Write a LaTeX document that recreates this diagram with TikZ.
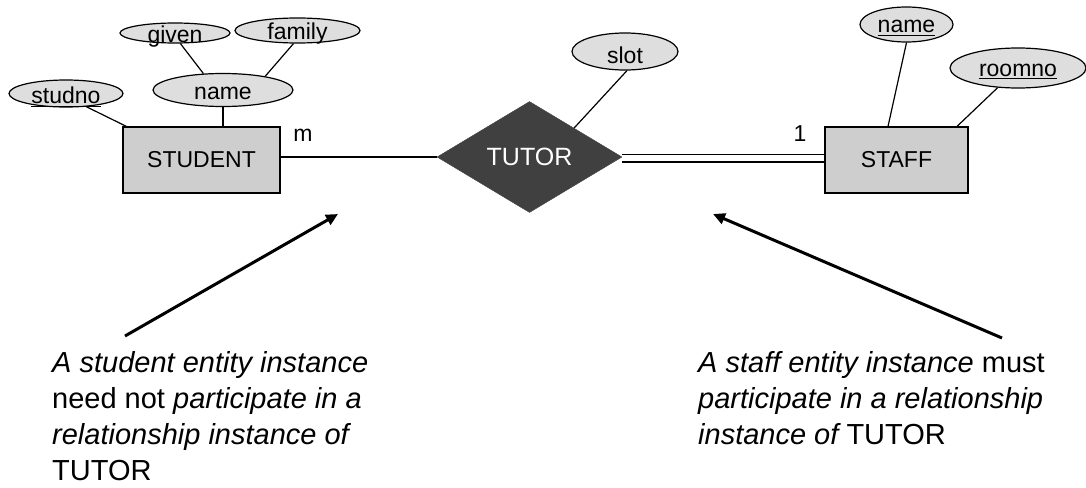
\documentclass[tikz,border=0pt]{standalone}
\usepackage{fontspec}
\setmainfont{Liberation Sans}
\usepackage{tikz}
\usetikzlibrary{arrows.meta,shapes.geometric}
\definecolor{grisat}{RGB}{222,222,222}
\definecolor{grisent}{RGB}{206,206,206}
\definecolor{oscuro}{RGB}{64,64,64}
\newcommand{\etqfont}{\fontsize{23}{27}\selectfont}
\newcommand{\relfont}{\fontsize{25}{29}\selectfont}
\newcommand{\notafont}{\fontsize{29}{36}\selectfont}
\newcommand{\pkey}[1]{\setbox0\hbox{#1}\rlap{\rule[-3.2pt]{\wd0}{1.2pt}}\box0}
\tikzset{
  ent/.style={draw, rectangle, fill=grisent, line width=1.2pt, inner sep=0pt, font=\etqfont},
  attr/.style={draw, ellipse, fill=grisat, line width=1.2pt, inner sep=0pt, label distance=0pt},
  rel/.style={draw=oscuro, diamond, fill=oscuro, text=white, inner sep=0pt, font=\relfont},
  card/.style={font=\etqfont, inner sep=0pt},
  lnk/.style={line width=1.2pt},
  dbl/.style={double, double distance=6pt, line width=1.2pt},
  fl/.style={-{Triangle[length=12pt,width=11pt]}, line width=3pt},
  nota/.style={align=left, font=\notafont, anchor=base west, inner sep=0pt},
}
\begin{document}
\begin{tikzpicture}[x=1pt,y=-1pt,every label/.style={font=\etqfont, yshift=-3.5pt}]
  \useasboundingbox (0,0) rectangle (1086,487);
  % entities and relationship
  \node[ent, minimum width=157pt, minimum height=66pt] (student) at (201.5,160) {STUDENT};
  \node[ent, minimum width=143pt, minimum height=66pt] (staff) at (896.5,160) {STAFF};
  \node[rel, minimum width=185pt, minimum height=111pt] (tutor) at (529.5,157) {TUTOR};
  % attributes
  \node[attr, minimum width=114pt, minimum height=27pt, label={center:\pkey{studno}}] (studno) at (66,93.5) {};
  \node[attr, minimum width=140pt, minimum height=33pt, label={center:name}] (name) at (223,90) {};
  \node[attr, minimum width=110pt, minimum height=20pt, label={center:given}] (given) at (175,33) {};
  \node[attr, minimum width=125pt, minimum height=25pt, label={center:family}] (family) at (297.5,30.5) {};
  \node[attr, minimum width=106pt, minimum height=37pt, label={center:slot}] (slot) at (625,51.5) {};
  \node[attr, minimum width=93pt, minimum height=35pt, label={center:\pkey{name}}] (sname) at (906.5,24.5) {};
  \node[attr, minimum width=136pt, minimum height=40pt, label={center:\pkey{roomno}}] (roomno) at (1018,68) {};
  % attribute links
  \draw[lnk] (studno.327) -- ([xshift=4pt]student.north west);
  \draw[lnk] (name.south) -- (name.south |- student.north);
  \draw[lnk] (given.297) -- (name.140);
  \draw[lnk] (family.253) -- (name.18);
  \draw[lnk] (slot.276) -- (tutor.33);
  \draw[lnk] (sname.south) -- ([xshift=-8.5pt]staff.north);
  \draw[lnk] (roomno.224) -- ([xshift=60.5pt]staff.north);
  % participation
  \draw[lnk] (tutor.west) -- (tutor.west -| student.east);
  \draw[dbl] ([yshift=-1.3pt]tutor.east) -- ([yshift=-1.3pt]tutor.east -| staff.west);
  \node[card] (m) at (303,135) {m};
  \node[card] (one) at (800,134) {1};
  % notes
  \coordinate (ltail) at (125,336);
  \coordinate (lhead) at (338,214);
  \coordinate (rtail) at (1002,338);
  \coordinate (rhead) at (713,214);
  \draw[fl] (ltail) -- (lhead);
  \draw[fl] (rtail) -- (rhead);
  \node[nota] (lnote) at (52,480) {{\itshape A student entity instance}\\need not {\itshape participate in a}\\{\itshape relationship instance of}\\TUTOR};
  \node[nota] (rnote) at (698,444) {{\itshape A staff entity instance} must\\{\itshape participate in a relationship}\\{\itshape instance of} TUTOR};
\end{tikzpicture}
\end{document}
